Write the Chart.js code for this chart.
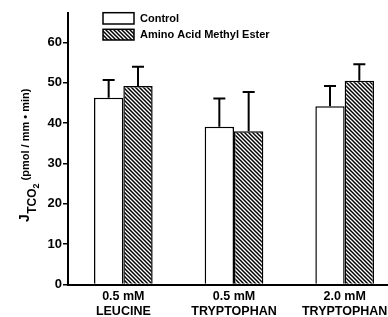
<!DOCTYPE html>
<html>
<head>
<meta charset="utf-8">
<script src="https://cdn.jsdelivr.net/npm/chart.js@4"></script>
<style>
  html, body { margin: 0; padding: 0; background: #fff; overflow: hidden; }
  #wrap { width: 400px; height: 317px; }
</style>
</head>
<body>
<div id="wrap"><canvas id="myChart" width="400" height="317"></canvas></div>
<script>
const groups = [['0.5 mM', 'LEUCINE'], ['0.5 mM', 'TRYPTOPHAN'], ['2.0 mM', 'TRYPTOPHAN']];
const seriesNames = ['Control', 'Amino Acid Methyl Ester'];
const controlMean = [46.3, 39.1, 44.2];
const controlErr = [4.4, 7.0, 5.0];
const esterMean = [49.2, 38.0, 50.5];
const esterErr = [4.75, 9.7, 4.1];
const yTicks = [0, 10, 20, 30, 40, 50, 60];
const Y_MAX = 67.3;

const FONT = '"Liberation Sans", Arial, sans-serif';

// diagonal "\" hatch
function makeHatch() {
  const p = 4;
  const c = document.createElement('canvas');
  c.width = p; c.height = p;
  const g = c.getContext('2d');
  g.fillStyle = '#fff';
  g.fillRect(0, 0, p, p);
  g.strokeStyle = '#000';
  g.lineWidth = 1.5;
  for (let k = -1; k <= 1; k++) {
    g.beginPath();
    g.moveTo(k * p - 1, -1);
    g.lineTo(k * p + p + 1, p + 1);
    g.stroke();
  }
  return g.createPattern(c, 'repeat');
}
const hatch = makeHatch();

const errors = [controlErr, esterErr];

const errorBars = {
  id: 'errorBars',
  afterDatasetsDraw(chart) {
    const ctx = chart.ctx;
    const y = chart.scales.y;
    ctx.save();
    ctx.strokeStyle = '#000';
    ctx.lineWidth = 2;
    chart.data.datasets.forEach((ds, i) => {
      chart.getDatasetMeta(i).data.forEach((bar, j) => {
        const top = y.getPixelForValue(ds.data[j] + errors[i][j]);
        ctx.beginPath();
        ctx.moveTo(bar.x, bar.y);
        ctx.lineTo(bar.x, top);
        ctx.moveTo(bar.x - 6, top);
        ctx.lineTo(bar.x + 6, top);
        ctx.stroke();
      });
    });
    ctx.restore();
  }
};

// legend + y title drawn by hand
const extras = {
  id: 'extras',
  afterDraw(chart) {
    const ctx = chart.ctx;
    ctx.save();
    // legend
    const boxes = [[103, 12.7, 31, 11.3], [103, 29.3, 31, 10.7]];
    chart.data.datasets.forEach((ds, i) => {
      const b = boxes[i];
      ctx.fillStyle = ds.backgroundColor;
      ctx.fillRect(b[0], b[1], b[2], b[3]);
      ctx.strokeStyle = '#000';
      ctx.lineWidth = 1.5;
      ctx.strokeRect(b[0], b[1], b[2], b[3]);
      ctx.fillStyle = '#000';
      ctx.font = 'bold 11px ' + FONT;
      ctx.textBaseline = 'middle';
      ctx.textAlign = 'left';
      ctx.fillText(ds.label, 140, b[1] + b[3] / 2 + 0.5);
    });

    // y title
    ctx.translate(28.5, 222);
    ctx.rotate(-Math.PI / 2);
    ctx.textBaseline = 'alphabetic';
    ctx.fillStyle = '#000';
    let x = 0;
    ctx.font = 'bold 14px ' + FONT;
    ctx.fillText('J', x, 0);
    x += ctx.measureText('J').width + 0.5;
    ctx.font = 'bold 12px ' + FONT;
    ctx.fillText('TCO', x, 7);
    x += ctx.measureText('TCO').width;
    ctx.font = 'bold 9px ' + FONT;
    ctx.fillText('2', x, 10);
    x += ctx.measureText('2').width + 3;
    ctx.font = 'bold 11px ' + FONT;
    ctx.fillText('(pmol / mm \u2022 min)', x, 0);
    ctx.restore();
  }
};

const ctx = document.getElementById('myChart').getContext('2d');

const myChart = new Chart(ctx, {
  type: 'bar',
  data: {
    labels: groups,
    datasets: [{
      label: seriesNames[0],
      data: controlMean,
      backgroundColor: '#fff',
      borderColor: '#000',
      borderWidth: 1.5,
      borderSkipped: 'bottom',
    }, {
      label: seriesNames[1],
      data: esterMean,
      backgroundColor: hatch,
      borderColor: '#000',
      borderWidth: 1.5,
      borderSkipped: 'bottom',
    }]
  },
  options: {
    responsive: false,
    animation: false,
    events: [],
    categoryPercentage: 0.53,
    barPercentage: 1,
    layout: { padding: { top: 13, left: 0, right: 0, bottom: 0 } },
    plugins: {
      legend: { display: false },
      tooltip: { enabled: false },
    },
    scales: {
      x: {
        grid: { display: false, drawTicks: false, tickLength: 0 },
        border: { color: '#000', width: 2 },
        ticks: {
          color: '#000',
          padding: 5,
          maxRotation: 0,
          autoSkip: false,
          font: { family: FONT, size: 12.5, weight: 'bold', lineHeight: 1.2 },
        },
        afterFit(scale) { scale.height = 32.5; },
      },
      y: {
        min: 0,
        max: Y_MAX,
        afterBuildTicks(scale) {
          scale.ticks = yTicks.map(v => ({ value: v }));
        },
        grid: {
          drawOnChartArea: false,
          color: '#000',
          lineWidth: 1.5,
          tickLength: 5,
        },
        border: { color: '#000', width: 2 },
        ticks: {
          color: '#000',
          padding: 1,
          font: { family: FONT, size: 13, weight: 'bold' },
        },
        afterFit(scale) { scale.width = 68; },
      }
    }
  },
  plugins: [errorBars, extras]
});
</script>
</body>
</html>
